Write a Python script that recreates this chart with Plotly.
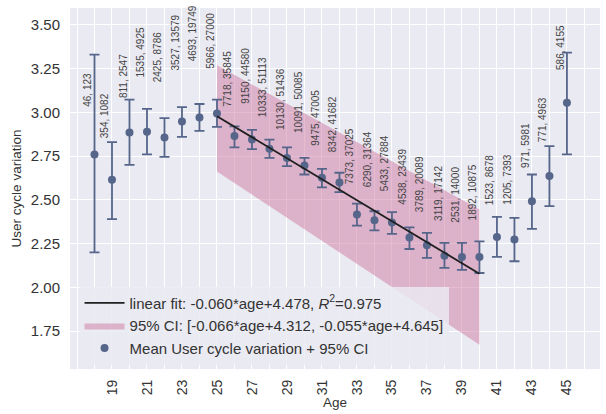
import plotly.graph_objects as go

# ---------------- data ----------------
ages = list(range(18, 46))
mean_var = [2.760, 2.615, 2.885, 2.890, 2.856, 2.948, 2.971, 2.994,
            2.865, 2.845, 2.792, 2.740, 2.697, 2.626, 2.600, 2.416,
            2.384, 2.370, 2.285, 2.240, 2.181, 2.174, 2.174, 2.288,
            2.273, 2.492, 2.636, 3.055]
ci_low = [2.200, 2.390, 2.700, 2.760, 2.746, 2.860, 2.894, 2.917,
          2.800, 2.790, 2.740, 2.693, 2.645, 2.572, 2.544, 2.353,
          2.326, 2.305, 2.219, 2.168, 2.111, 2.100, 2.082, 2.174,
          2.149, 2.334, 2.464, 2.760]
ci_high = [3.330, 2.830, 3.073, 3.020, 2.967, 3.030, 3.048, 3.073,
           2.920, 2.900, 2.845, 2.800, 2.740, 2.677, 2.655, 2.479,
           2.435, 2.430, 2.343, 2.311, 2.254, 2.254, 2.263, 2.403,
           2.397, 2.645, 2.807, 3.342]
n_users = [46, 354, 811, 1535, 2425, 3527, 4693, 5966, 7718, 9150, 10333,
           10130, 10091, 9475, 8342, 7373, 6290, 5433, 4538, 3789, 3119,
           2531, 1892, 1523, 1205, 971, 771, 586]
n_cycles = [123, 1082, 2547, 4925, 8786, 13579, 19749, 27000, 35845, 44580,
            51113, 51436, 50085, 47005, 41682, 37025, 31364, 27884, 23439,
            20089, 17142, 14000, 10875, 8678, 7393, 5981, 4963, 4155]

fit_ages = [25, 40]
fit_slope, fit_intercept, fit_r2 = -0.060, 4.478, 0.975
ci_lo_slope, ci_lo_intercept = -0.066, 4.312
ci_hi_slope, ci_hi_intercept = -0.055, 4.645

x_tick_ages = list(range(19, 46, 2))
y_ticks = [1.75, 2.00, 2.25, 2.50, 2.75, 3.00, 3.25, 3.50]

# annotation anchor heights (layout only)
label_base = [3.02, 2.84, 3.07, 3.19, 3.16, 3.23, 3.28, 3.24,
              3.02, 3.04, 2.96, 2.89, 2.87, 2.80, 2.76, 2.58,
              2.56, 2.54, 2.46, 2.42, 2.37, 2.36, 2.37, 2.46,
              2.46, 2.67, 2.82, 3.23]

# ---------------- styles ----------------
FONT = "Liberation Sans, Arial, sans-serif"
BG = "#EAEAF2"
PT_COLOR = "#56658a"
BAND_COLOR = "rgba(205,115,158,0.48)"

fig = go.Figure()

# CI band of the fit
bx = [fit_ages[0], fit_ages[1], fit_ages[1], fit_ages[0], fit_ages[0]]
by = [ci_lo_slope * fit_ages[0] + ci_lo_intercept,
      ci_lo_slope * fit_ages[1] + ci_lo_intercept,
      ci_hi_slope * fit_ages[1] + ci_hi_intercept,
      ci_hi_slope * fit_ages[0] + ci_hi_intercept,
      ci_lo_slope * fit_ages[0] + ci_lo_intercept]
fig.add_trace(go.Scatter(
    x=bx, y=by, mode="lines", fill="toself", fillcolor=BAND_COLOR,
    line=dict(width=0, color=BAND_COLOR), legendrank=2,
    name=f"95% CI: [{ci_lo_slope:.3f}*age+{ci_lo_intercept:.3f}, "
         f"{ci_hi_slope:.3f}*age+{ci_hi_intercept:.3f}]",
    hoverinfo="skip"))

# points with error bars
fig.add_trace(go.Scatter(
    x=ages, y=mean_var, mode="markers",
    marker=dict(size=8, color=PT_COLOR),
    error_y=dict(type="data", symmetric=False,
                 array=[h - m for h, m in zip(ci_high, mean_var)],
                 arrayminus=[m - l for m, l in zip(mean_var, ci_low)],
                 color=PT_COLOR, thickness=1.8, width=5),
    name="Mean User cycle variation + 95% CI", legendrank=3))

# fit line
fig.add_trace(go.Scatter(
    x=fit_ages, y=[fit_slope * a + fit_intercept for a in fit_ages],
    mode="lines", line=dict(color="#1f1f1f", width=1.8), legendrank=1,
    name=f"linear fit: {fit_slope:.3f}*age+{fit_intercept:.3f}, "
         f"<i>R</i><sup>2</sup>={fit_r2:.3f}"))

# count labels
for a, nu, nc, yb in zip(ages, n_users, n_cycles, label_base):
    fig.add_annotation(
        x=a - 0.38, y=yb, text=f"{nu}, {nc}", textangle=-90,
        showarrow=False, xanchor="center", yanchor="bottom",
        font=dict(family=FONT, size=10, color="#444444"))

fig.update_layout(
    width=606, height=414,
    margin=dict(l=70, r=6, t=8, b=45),
    paper_bgcolor="white", plot_bgcolor=BG,
    font=dict(family=FONT, color="#333333"),
    showlegend=True,
    legend=dict(x=0.018, y=0.012, xanchor="left", yanchor="bottom",
                bgcolor="rgba(234,234,242,0.85)", borderwidth=0,
                font=dict(family=FONT, size=15, color="#333333"),
                itemwidth=40, tracegroupgap=0),
)
fig.update_xaxes(
    range=[16.6, 46.89], tickvals=x_tick_ages,
    ticktext=[str(a) for a in x_tick_ages], tickangle=-90,
    tickfont=dict(size=14, color="#333333"),
    ticks="outside", ticklen=4, tickcolor="rgba(0,0,0,0)",
    showgrid=True, gridcolor="white", gridwidth=1, zeroline=False,
    minor=dict(tick0=18, dtick=1, showgrid=True, gridcolor="white", gridwidth=1),
    title=dict(text="Age", font=dict(size=13.5, color="#333333"), standoff=0),
    showline=False)
fig.update_yaxes(
    range=[1.533, 3.597], tickvals=y_ticks,
    ticktext=[f"{v:.2f}" for v in y_ticks],
    tickfont=dict(size=15, color="#333333"),
    ticks="outside", ticklen=6, tickcolor="rgba(0,0,0,0)",
    showgrid=True, gridcolor="white", gridwidth=1.2, zeroline=False,
    title=dict(text="User cycle variation", font=dict(size=13.5, color="#333333"), standoff=6),
    showline=False)

fig.write_html("out.html", config={"displayModeBar": False},
               post_script="document.body.style.margin='0px';")
